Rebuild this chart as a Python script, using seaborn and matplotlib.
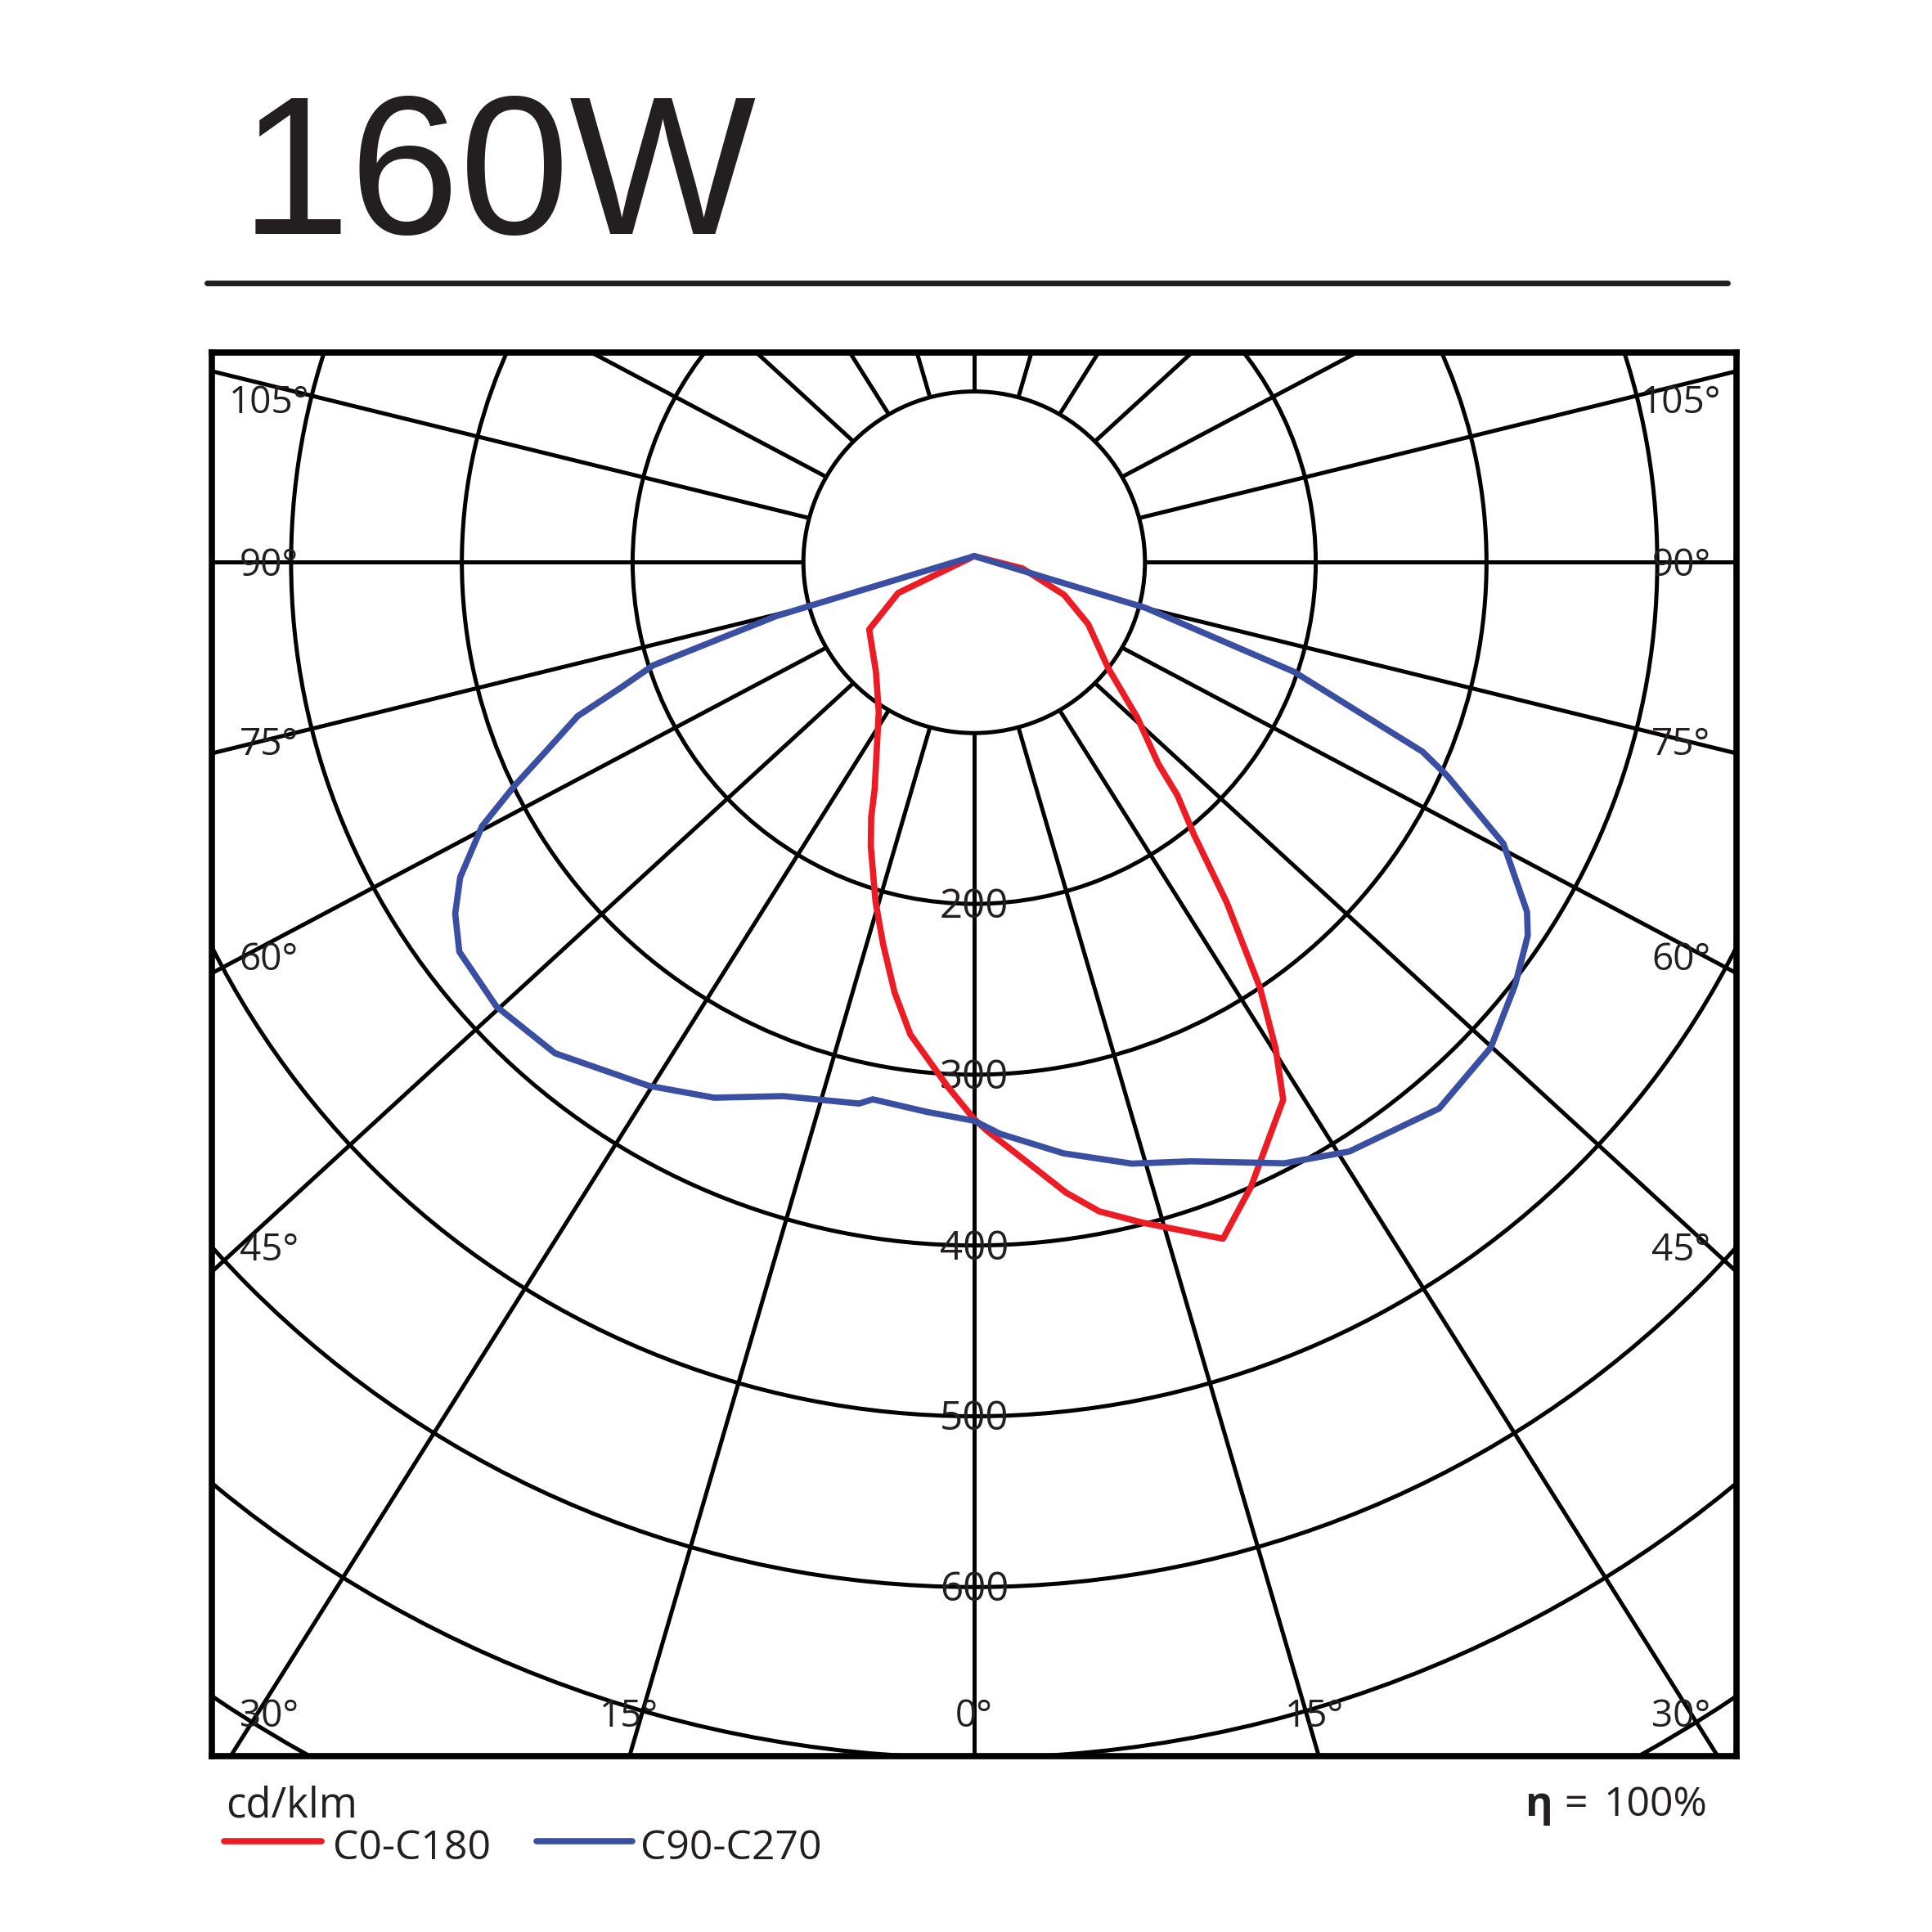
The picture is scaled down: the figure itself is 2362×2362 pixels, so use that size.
import numpy as np
import pandas as pd
import matplotlib
matplotlib.use("Agg")
import matplotlib.pyplot as plt
import seaborn as sns
from matplotlib.patches import Circle
from matplotlib.lines import Line2D

sns.set_style("white")
plt.rcParams['font.family'] = ['Open Sans', 'DejaVu Sans']

# intensity data (gamma in degrees, cd/klm)
c0_gamma = [0, 1.3, 4.6, 8.3, 10.9, 14.3, 20.2, 23.9, 29.9, 31.8, 33.9, 36.6, 38.9,
            41.1, 42.4, 46.4, 51.7, 61.5, 70.1, 82.8, 180]
c0_cd = [326, 333, 350, 373, 387, 399, 422, 400, 363, 335, 300, 248, 205,
         181, 160, 132, 100, 76, 56, 28.5, 3.6]

c180_gamma = [0, 2.8, 7.7, 10.5, 13.4, 16.2, 20.0, 22.0, 23.7, 32.5, 42.0, 57.4, 68.0, 180]
c180_cd = [326, 308, 279, 256, 230, 207, 177, 161, 145, 104, 86, 73, 48, 3.6]

c90_gamma = [0, 2.6, 8.6, 14.7, 19.9, 27.3, 32.5, 40.4, 46.8, 52.0, 56.0, 57.7, 62.0,
             65.7, 67.1, 71.1, 75.1, 180]
c90_cd = [327, 335, 350, 364, 373, 396, 409, 420, 415, 402, 391, 383, 351,
          304, 285, 198, 104, 3.6]

c270_gamma = [0, 4.9, 10.7, 12.0, 19.7, 25.9, 31.9, 40.5, 47.1, 52.9, 55.9, 58.5, 61.8,
              64.1, 66.1, 68.8, 70.5, 72.2, 74.8, 180]
c270_cd = [327, 323, 320, 324, 332, 348.5, 361, 378, 382, 378, 367, 353, 327,
           299, 275, 249, 219, 197.5, 120, 3.6]

radial_ticks = [200, 300, 400, 500, 600]
rings = [100, 200, 300, 400, 500, 600, 700, 800]
spokes = np.arange(0, 360, 15)

ink = '#231f20'
red = '#ed1c24'
blue = '#3a4fa2'


def plane(name, left_g, left_cd, right_g, right_cd):
    g = np.concatenate([-np.array(left_g[::-1], float), np.array(right_g, float)])
    r = np.concatenate([np.array(left_cd[::-1], float), np.array(right_cd, float)])
    t = np.radians(g)
    return pd.DataFrame({'x': r * np.sin(t), 'y': -r * np.cos(t), 'plane': name})


df = pd.concat([plane('C0-C180', c180_gamma, c180_cd, c0_gamma, c0_cd),
                plane('C90-C270', c270_gamma, c270_cd, c90_gamma, c90_cd)],
               ignore_index=True)

W = 2362
fig = plt.figure(figsize=(23.62, 23.62), dpi=100)
ax = fig.add_axes([259 / W, 1 - 2147 / W, (2123 - 259) / W, (2147 - 431) / W])

# polar grid (spokes in the original run a little flatter than true radials)
for r in rings:
    ax.add_patch(Circle((0, 0), r, fill=False, ec='black', lw=3.6, zorder=1))
for a in spokes:
    t = np.radians(a)
    x0, y0 = 100 * np.sin(t), -100 * np.cos(t)
    ax.plot([x0, x0 + 1500 * 1.09 * np.sin(t)], [y0, y0 - 1500 * np.cos(t)],
            color='black', lw=3.6, zorder=1, solid_capstyle='butt')

sns.lineplot(data=df, x='x', y='y', hue='plane', sort=False, estimator=None,
             palette={'C0-C180': red, 'C90-C270': blue}, linewidth=5.5,
             legend=False, ax=ax, zorder=4)

ax.set_xlim(-446.4, 446.4)
ax.set_ylim(-699.0, 122.8)
ax.set_xticks([])
ax.set_yticks([])
ax.set_xlabel('')
ax.set_ylabel('')
for s in ax.spines.values():
    s.set_visible(True)
    s.set_color('black')
    s.set_linewidth(5.5)
    s.set_zorder(5)

fs = 33
for r in radial_ticks:
    ax.text(0, -r - 2, str(r), ha='center', va='center', fontsize=35.5, color=ink, zorder=3)

side_labels = [('105°', 93), ('90°', -2), ('75°', -107), ('60°', -233), ('45°', -403)]
for txt, yy in side_labels:
    ax.text(-413, yy, txt, ha='center', va='center', fontsize=fs, color=ink, zorder=3)
    ax.text(414, yy, txt, ha='center', va='center', fontsize=fs, color=ink, zorder=3)
for txt, xx in [('30°', -413), ('15°', -202), ('0°', 0), ('15°', 199), ('30°', 414)]:
    ax.text(xx, -676, txt, ha='center', va='center', fontsize=fs, color=ink, zorder=3)

# header
fig.text(294 / W, 1 - 286 / W, '160W', family='Liberation Sans', fontsize=174,
         color=ink, ha='left', va='baseline')
fig.add_artist(Line2D([253 / W, 2112 / W], [1 - 346 / W, 1 - 346 / W], color=ink, lw=5))

# footer
fig.text(276 / W, 1 - 2222 / W, 'cd/klm', fontsize=36.5, color=ink, ha='left', va='baseline')
fig.add_artist(Line2D([274 / W, 393 / W], [1 - 2251 / W, 1 - 2251 / W], color=red, lw=5.5))
fig.text(407 / W, 1 - 2273 / W, 'C0-C180', fontsize=36, color=ink, ha='left', va='baseline')
fig.add_artist(Line2D([656 / W, 773 / W], [1 - 2251 / W, 1 - 2251 / W], color=blue, lw=5.5))
fig.text(783 / W, 1 - 2273 / W, 'C90-C270', fontsize=36, color=ink, ha='left', va='baseline')
fig.text(1865 / W, 1 - 2220 / W, 'η', fontsize=37, color=ink, ha='left', va='baseline',
         weight='bold')
fig.text(1912 / W, 1 - 2220 / W, '=', fontsize=36, color=ink, ha='left', va='baseline')
fig.text(2087 / W, 1 - 2220 / W, '100%', fontsize=36, color=ink, ha='right', va='baseline')

fig.savefig('out.png', dpi=100, facecolor='white')
